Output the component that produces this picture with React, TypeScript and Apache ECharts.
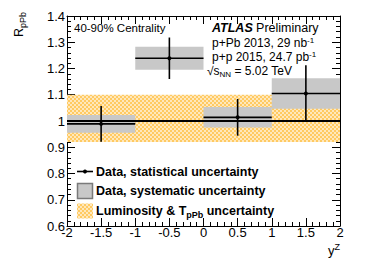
import React, { useEffect, useRef } from "react";
import * as echarts from "echarts";

// ---- data ----
const yzBinLow = [-2, -1, 0, 1];
const yzBinHigh = [-1, 0, 1, 2];
const yzCenter = [-1.5, -0.5, 0.5, 1.5];
const rpPb = [0.989, 1.239, 1.014, 1.105];
const statErr = [0.068, 0.079, 0.07, 0.107];
const sysErr = [0.034, 0.044, 0.039, 0.058];
const lumiBand = [0.92, 1.1]; // low, high
const referenceLevel = 1;
const xRange = [-2, 2];
const yRange = [0.6, 1.4];

const FONT = '"Liberation Sans", Arial, Helvetica, sans-serif';

function makeChecker() {
  const c = document.createElement("canvas");
  c.width = 4;
  c.height = 4;
  const ctx = c.getContext("2d")!;
  ctx.fillStyle = "#ffe8bc";
  ctx.fillRect(0, 0, 4, 4);
  ctx.fillStyle = "#ffca62";
  ctx.fillRect(0, 0, 2, 2);
  ctx.fillRect(2, 2, 2, 2);
  return c;
}

const fmt = (v: number) => String(Math.round(v * 10) / 10);

export default function App() {
  const ref = useRef<HTMLDivElement>(null);
  useEffect(() => {
    if (!ref.current) return;
    const chart = echarts.init(ref.current, undefined, { renderer: "svg" });
    const checker = makeChecker();
    const pattern: any = { image: checker, repeat: "repeat" };

    const axisCommon: any = {
      type: "value",
      axisLine: { show: true, onZero: false, lineStyle: { color: "#000", width: 1 } },
      axisTick: { show: true, inside: true, length: 8, lineStyle: { color: "#000", width: 1 } },
      minorTick: { show: true, splitNumber: 5, length: 4, lineStyle: { color: "#000", width: 1 } },
      splitLine: { show: false },
      minorSplitLine: { show: false },
    };

    const option: any = {
      animation: false,
      backgroundColor: "#fff",
      textStyle: { fontFamily: FONT },
      grid: { left: 67, top: 16, right: 34, bottom: 43 },
      xAxis: [
        {
          ...axisCommon,
          position: "bottom",
          min: xRange[0],
          max: xRange[1],
          interval: 0.5,
          axisLabel: { show: true, color: "#000", fontSize: 13, fontFamily: FONT, margin: 0, formatter: fmt },
        },
        {
          ...axisCommon,
          position: "top",
          min: xRange[0],
          max: xRange[1],
          interval: 0.5,
          axisLabel: { show: false },
        },
      ],
      yAxis: [
        {
          ...axisCommon,
          position: "left",
          min: yRange[0],
          max: yRange[1],
          interval: 0.1,
          axisLabel: { show: true, color: "#000", fontSize: 13, fontFamily: FONT, margin: 2, formatter: fmt },
        },
        {
          ...axisCommon,
          position: "right",
          min: yRange[0],
          max: yRange[1],
          interval: 0.1,
          axisLabel: { show: false },
        },
      ],
      series: [
        {
          type: "custom",
          name: "band",
          z: 1,
          data: [[xRange[0], xRange[1], lumiBand[0], lumiBand[1]]],
          renderItem: (params: any, api: any) => {
            const p1 = api.coord([api.value(0), api.value(3)]);
            const p2 = api.coord([api.value(1), api.value(2)]);
            return {
              type: "rect",
              shape: { x: p1[0], y: p1[1], width: p2[0] - p1[0], height: p2[1] - p1[1] },
              style: { fill: pattern },
            };
          },
        },
        {
          type: "custom",
          name: "sys",
          z: 2,
          data: yzBinLow.map((l, i) => [l, yzBinHigh[i], rpPb[i] - sysErr[i], rpPb[i] + sysErr[i]]),
          renderItem: (params: any, api: any) => {
            const p1 = api.coord([api.value(0), api.value(3)]);
            const p2 = api.coord([api.value(1), api.value(2)]);
            return {
              type: "rect",
              shape: { x: p1[0], y: p1[1], width: p2[0] - p1[0], height: p2[1] - p1[1] },
              style: { fill: "#c8c8c8" },
            };
          },
        },
        {
          type: "custom",
          name: "ref",
          z: 3,
          data: [[xRange[0], xRange[1], referenceLevel]],
          renderItem: (params: any, api: any) => {
            const p1 = api.coord([api.value(0), api.value(2)]);
            const p2 = api.coord([api.value(1), api.value(2)]);
            return {
              type: "line",
              shape: { x1: p1[0], y1: p1[1], x2: p2[0], y2: p2[1] },
              style: { stroke: "#000", lineWidth: 2 },
            };
          },
        },
        {
          type: "custom",
          name: "stat",
          z: 4,
          data: yzCenter.map((c, i) => [c, rpPb[i], statErr[i], yzBinLow[i], yzBinHigh[i]]),
          renderItem: (params: any, api: any) => {
            const x = api.value(0);
            const y = api.value(1);
            const e = api.value(2);
            const pc = api.coord([x, y]);
            const pt = api.coord([x, y + e]);
            const pb = api.coord([x, y - e]);
            const pl = api.coord([api.value(3), y]);
            const pr = api.coord([api.value(4), y]);
            return {
              type: "group",
              children: [
                { type: "line", shape: { x1: pt[0], y1: pt[1], x2: pb[0], y2: pb[1] }, style: { stroke: "#000", lineWidth: 1.6 } },
                { type: "line", shape: { x1: pl[0], y1: pl[1], x2: pr[0], y2: pr[1] }, style: { stroke: "#000", lineWidth: 1.6 } },
                { type: "circle", shape: { cx: pc[0], cy: pc[1], r: 2 }, style: { fill: "#000" } },
              ],
            };
          },
        },
      ],
      graphic: [
        {
          type: "text",
          x: 19,
          y: 37,
          rotation: Math.PI / 2,
          style: {
            text: "{r|R}{s|pPb}",
            align: "left",
            verticalAlign: "middle",
            fill: "#000",
            rich: {
              r: { fontSize: 12.5, lineHeight: 16, fontFamily: FONT, fill: "#000" },
              s: { fontSize: 9, lineHeight: 7, verticalAlign: "bottom", fontFamily: FONT, fill: "#000" },
            },
          },
        },
        {
          type: "text",
          x: 340,
          y: 250,
          style: {
            text: "{m|y}{s|Z}",
            align: "right",
            verticalAlign: "middle",
            fill: "#000",
            rich: {
              m: { fontSize: 13, lineHeight: 16, fontFamily: FONT, fill: "#000" },
              s: { fontSize: 9, lineHeight: 7, verticalAlign: "top", fontFamily: FONT, fill: "#000" },
            },
          },
        },
        {
          type: "text",
          x: 74,
          y: 28,
          style: { text: "40-90% Centrality", fontSize: 11.5, fontFamily: FONT, fill: "#000", align: "left", verticalAlign: "middle" },
        },
        {
          type: "text",
          x: 212,
          y: 28,
          style: {
            text: "{a|ATLAS} {b|Preliminary}",
            align: "left",
            verticalAlign: "middle",
            fill: "#000",
            rich: {
              a: { fontSize: 12.5, fontWeight: "bold", fontStyle: "italic", fontFamily: FONT, fill: "#000" },
              b: { fontSize: 12.5, fontFamily: FONT, fill: "#000" },
            },
          },
        },
        {
          type: "text",
          x: 212,
          y: 43,
          style: {
            text: "{m|p+Pb 2013, 29 nb}{s|-1}",
            align: "left",
            verticalAlign: "middle",
            fill: "#000",
            rich: {
              m: { fontSize: 12, lineHeight: 14, fontFamily: FONT, fill: "#000" },
              s: { fontSize: 8, lineHeight: 6, verticalAlign: "top", fontFamily: FONT, fill: "#000" },
            },
          },
        },
        {
          type: "text",
          x: 212,
          y: 57,
          style: {
            text: "{m|p+p 2015, 24.7 pb}{s|-1}",
            align: "left",
            verticalAlign: "middle",
            fill: "#000",
            rich: {
              m: { fontSize: 12, lineHeight: 14, fontFamily: FONT, fill: "#000" },
              s: { fontSize: 8, lineHeight: 6, verticalAlign: "top", fontFamily: FONT, fill: "#000" },
            },
          },
        },
        {
          type: "text",
          x: 207,
          y: 71,
          style: {
            text: "{m|√s}{s|NN}{m| = 5.02 TeV}",
            align: "left",
            verticalAlign: "middle",
            fill: "#000",
            rich: {
              m: { fontSize: 12, lineHeight: 14, fontFamily: FONT, fill: "#000" },
              s: { fontSize: 8, lineHeight: 6, verticalAlign: "bottom", fontFamily: FONT, fill: "#000" },
            },
          },
        },
        // legend
        { type: "line", shape: { x1: 77, y1: 171.5, x2: 93, y2: 171.5 }, style: { stroke: "#000", lineWidth: 1.6 } },
        { type: "circle", shape: { cx: 85, cy: 171.5, r: 2 }, style: { fill: "#000" } },
        {
          type: "text",
          x: 96,
          y: 171.5,
          style: { text: "Data, statistical uncertainty", fontSize: 12.5, fontWeight: "bold", fontFamily: FONT, fill: "#000", align: "left", verticalAlign: "middle" },
        },
        { type: "rect", shape: { x: 77.5, y: 183.5, width: 15, height: 15 }, style: { fill: "#c8c8c8", stroke: "#7a7a7a", lineWidth: 1.5 } },
        {
          type: "text",
          x: 96,
          y: 191,
          style: { text: "Data, systematic uncertainty", fontSize: 12.5, fontWeight: "bold", fontFamily: FONT, fill: "#000", align: "left", verticalAlign: "middle" },
        },
        { type: "rect", shape: { x: 77, y: 203.5, width: 16, height: 15 }, style: { fill: pattern } },
        {
          type: "text",
          x: 96,
          y: 211,
          style: {
            text: "{m|Luminosity & T}{s|pPb}{m| uncertainty}",
            align: "left",
            verticalAlign: "middle",
            fill: "#000",
            rich: {
              m: { fontSize: 12.5, fontWeight: "bold", lineHeight: 16, fontFamily: FONT, fill: "#000" },
              s: { fontSize: 9, fontWeight: "bold", lineHeight: 6, verticalAlign: "bottom", fontFamily: FONT, fill: "#000" },
            },
          },
        },
      ],
    };
    chart.setOption(option);
    return () => chart.dispose();
  }, []);
  return (
    <div
      ref={ref}
      style={{ position: "fixed", left: 0, top: 0, width: 374, height: 269, background: "#fff" }}
    />
  );
}
